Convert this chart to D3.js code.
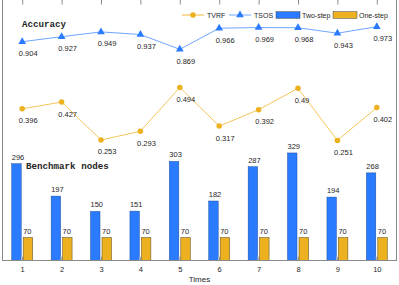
<!DOCTYPE html>
<html lang="en">

<head>
  <meta charset="utf-8">
  <title>Accuracy and benchmark nodes</title>
  <script src="https://cdn.jsdelivr.net/npm/d3@7"></script>
  <style type="text/css">
    body {
      margin: 0;
      background: #fff;
    }
    text {
      font-family: "Liberation Sans", Arial, sans-serif;
      fill: #262626;
    }
    .valueText {
      font-size: 7.5px;
    }
    .panelTitle {
      font-family: "Liberation Mono", "DejaVu Sans Mono", monospace;
      font-weight: bold;
      font-size: 9.2px;
    }
    .legendText {
      font-size: 7px;
    }
  </style>
</head>

<body style="width: 399px; height: 285px;">
  <script>
    // values
    var times = [1, 2, 3, 4, 5, 6, 7, 8, 9, 10];
    var tsos = [0.904, 0.927, 0.949, 0.937, 0.869, 0.966, 0.969, 0.968, 0.943, 0.973];
    var tvrf = [0.396, 0.427, 0.253, 0.293, 0.494, 0.317, 0.392, 0.49, 0.251, 0.402];
    var twoStep = [296, 197, 150, 151, 303, 182, 287, 329, 194, 268];
    var oneStep = [70, 70, 70, 70, 70, 70, 70, 70, 70, 70];
    var hiddenBar = [12, 12, 12, 12, 12, 12, 12, 12, 12, 12];

    var blue = "#2a7bff", orange = "#edb120";

    var width = 399, height = 285;
    // note: "top" is a reserved window property, so use plot* names
    var plotLeft = 2.5, plotRight = 396.5, plotTop = -1, plotBottom = 260.5;

    var svg = d3.select("body").append("svg")
      .attr("width", width)
      .attr("height", height);

    var x = d3.scaleLinear().domain([0.5, 10.5]).range([plotLeft, plotRight]);
    var yBar = d3.scaleLinear().domain([0, 800]).range([plotBottom, plotTop]);
    // the two accuracy lines share the same unit size but sit at different heights
    var yTsos = d3.scaleLinear().domain([-0.1, 1.1]).range([plotBottom, plotTop]);
    var yTvrf = d3.scaleLinear().domain([-0.3, 0.9]).range([plotBottom, plotTop]);

    var barW = x(0.74) - x(0.5);

    // bars
    var bars = svg.append("g");
    bars.selectAll(".two").data(twoStep).enter().append("rect")
      .attr("x", function (d, i) { return x(times[i]) - barW - 1; })
      .attr("y", function (d) { return yBar(d); })
      .attr("width", barW)
      .attr("height", function (d) { return yBar(0) - yBar(d); })
      .attr("fill", blue)
      .attr("stroke", "#1c4f9c")
      .attr("stroke-width", 0.5);
    bars.selectAll(".mid").data(hiddenBar).enter().append("rect")
      .attr("x", function (d, i) { return x(times[i]) - 1; })
      .attr("y", function (d) { return yBar(d); })
      .attr("width", 2)
      .attr("height", function (d) { return yBar(0) - yBar(d); })
      .attr("fill", "#c8c8c8");
    bars.selectAll(".one").data(oneStep).enter().append("rect")
      .attr("x", function (d, i) { return x(times[i]) + 1; })
      .attr("y", function (d) { return yBar(d); })
      .attr("width", barW)
      .attr("height", function (d) { return yBar(0) - yBar(d); })
      .attr("fill", orange)
      .attr("stroke", "#6b5a2a")
      .attr("stroke-width", 0.6);

    bars.selectAll(".twoLabel").data(twoStep).enter().append("text")
      .attr("class", "valueText")
      .attr("x", function (d, i) { return x(times[i]) - barW - 1; })
      .attr("y", function (d) { return yBar(d) - 4; })
      .text(function (d) { return d; });
    bars.selectAll(".oneLabel").data(oneStep).enter().append("text")
      .attr("class", "valueText")
      .attr("x", function (d, i) { return x(times[i]) + 1; })
      .attr("y", function (d) { return yBar(d) - 4; })
      .text(function (d) { return d; });

    // accuracy lines
    function drawSeries(values, yScale, lineColor, markColor, symbol, size) {
      var g = svg.append("g");
      var line = d3.line()
        .x(function (d, i) { return x(times[i]); })
        .y(function (d) { return yScale(d); });
      g.append("path")
        .datum(values)
        .attr("d", line)
        .attr("fill", "none")
        .attr("stroke", lineColor)
        .attr("stroke-width", 1);
      g.selectAll(".mark").data(values).enter().append("path")
        .attr("transform", function (d, i) {
          return "translate(" + x(times[i]) + "," + yScale(d) + ")";
        })
        .attr("d", d3.symbol().type(symbol).size(size))
        .attr("fill", markColor);
      g.selectAll(".lab").data(values).enter().append("text")
        .attr("class", "valueText")
        .attr("x", function (d, i) { return x(times[i] - 0.085); })
        .attr("y", function (d) { return yScale(d) + 14.5; })
        .text(function (d) { return d; });
    }
    drawSeries(tvrf, yTvrf, "#f5c65a", orange, d3.symbolCircle, 24);
    drawSeries(tsos, yTsos, "#6ea6ff", blue, d3.symbolTriangle, 26);

    // frame and axes
    svg.append("rect")
      .attr("x", plotLeft).attr("y", plotTop)
      .attr("width", plotRight - plotLeft).attr("height", plotBottom - plotTop)
      .attr("fill", "none")
      .attr("stroke", "#8a8a8a")
      .attr("stroke-width", 1);

    var xAxis = svg.append("g")
      .attr("transform", "translate(0," + plotBottom + ")")
      .call(d3.axisBottom(x).tickValues(times).tickSizeInner(-3.5).tickSizeOuter(0).tickPadding(6));
    xAxis.select(".domain").remove();
    xAxis.selectAll("line").attr("stroke", "#8a8a8a");
    xAxis.selectAll("text").attr("font-size", 7.5).attr("font-family", "Liberation Sans, Arial, sans-serif").attr("fill", "#262626");

    var topAxis = svg.append("g")
      .attr("transform", "translate(0," + plotTop + ")")
      .call(d3.axisTop(x).tickValues(times).tickSizeInner(-5.5).tickSizeOuter(0).tickFormat(""));
    topAxis.select(".domain").remove();
    topAxis.selectAll("line").attr("stroke", "#8a8a8a");

    svg.append("text")
      .attr("x", (plotLeft + plotRight) / 2)
      .attr("y", 282)
      .attr("text-anchor", "middle")
      .attr("font-size", 8)
      .text("Times");

    svg.append("text").attr("class", "panelTitle")
      .attr("x", 22).attr("y", 27)
      .text("Accuracy");
    svg.append("text").attr("class", "panelTitle")
      .attr("x", 26).attr("y", 169)
      .text("Benchmark nodes");

    // legend
    var legend = svg.append("g").attr("transform", "translate(0,15)");
    legend.append("line").attr("x1", 182).attr("x2", 204)
      .attr("stroke", "#f8dc9a").attr("stroke-width", 2);
    legend.append("path").attr("transform", "translate(193,0)")
      .attr("d", d3.symbol().type(d3.symbolCircle).size(24)).attr("fill", orange);
    legend.append("text").attr("class", "legendText").attr("x", 207).attr("y", 2.5).text("TVRF");

    legend.append("line").attr("x1", 229).attr("x2", 251)
      .attr("stroke", "#b8d2ff").attr("stroke-width", 2);
    legend.append("path").attr("transform", "translate(240,0)")
      .attr("d", d3.symbol().type(d3.symbolTriangle).size(26)).attr("fill", blue);
    legend.append("text").attr("class", "legendText").attr("x", 254).attr("y", 2.5).text("TSOS");

    legend.append("rect").attr("x", 276).attr("y", -3.3).attr("width", 24).attr("height", 6.6)
      .attr("fill", blue).attr("stroke", "#444").attr("stroke-width", 0.5);
    legend.append("text").attr("class", "legendText").attr("x", 302).attr("y", 2.5).text("Two-step");

    legend.append("rect").attr("x", 333).attr("y", -3.3).attr("width", 24).attr("height", 6.6)
      .attr("fill", orange).attr("stroke", "#444").attr("stroke-width", 0.5);
    legend.append("text").attr("class", "legendText").attr("x", 359).attr("y", 2.5).text("One-step");
  </script>
</body>

</html>
